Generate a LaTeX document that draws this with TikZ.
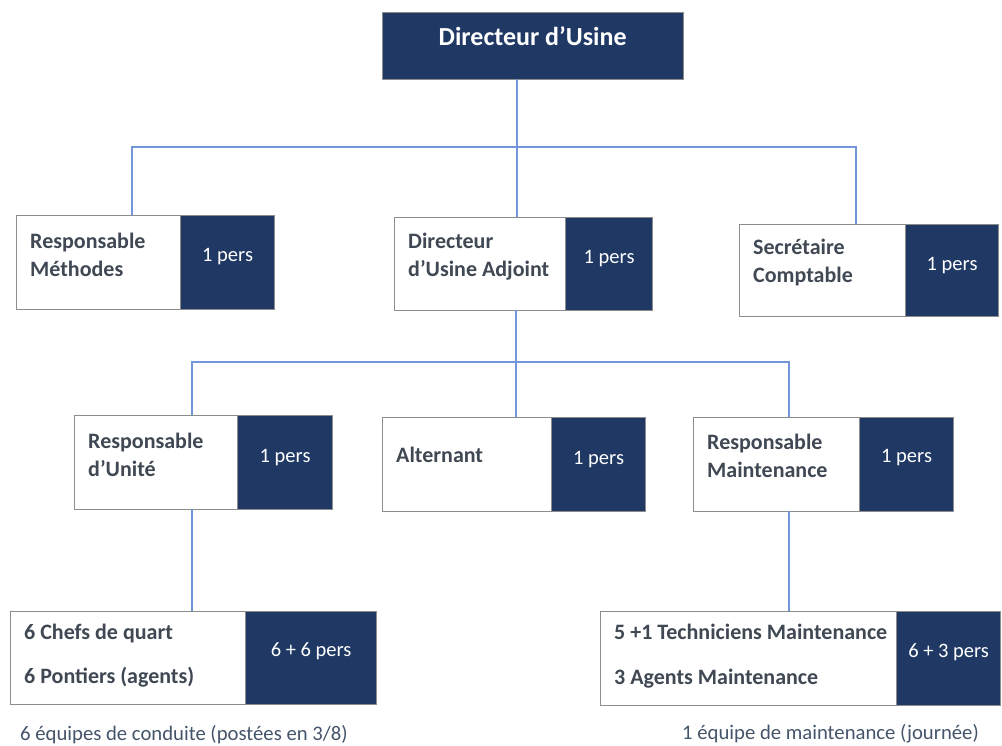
\documentclass[tikz,border=0pt]{standalone}
\usepackage{fontspec}
\setmainfont{Carlito}
\usepackage{xcolor}
\usetikzlibrary{positioning}

\definecolor{navy}{HTML}{1F3864}
\definecolor{boxline}{HTML}{8C8C8C}
\definecolor{roletext}{HTML}{404854}
\definecolor{linkblue}{HTML}{7494DC}
\definecolor{notetext}{HTML}{44546A}

\begin{document}
\begin{tikzpicture}[
  x=1pt, y=-1pt,
  chief/.style = {rectangle, draw=boxline, fill=navy, text=white, font=\fontsize{26}{30}\selectfont\bfseries, minimum width=301pt, inner sep=0pt, text height=33pt, text depth=34pt, anchor=north west},
  role/.style = {rectangle, draw=boxline, fill=white, text=roletext, font=\fontsize{22}{28}\selectfont\bfseries, align=flush left, inner xsep=14pt, inner ysep=0pt, anchor=north west},
  count/.style = {rectangle, draw=boxline, fill=navy, text=white, font=\fontsize{20.5}{24}\selectfont, inner sep=0pt},
  link/.style = {draw=linkblue, line width=1.3pt},
  note/.style = {text=notetext, font=\fontsize{20.7}{24}\selectfont, inner sep=0pt, anchor=base west}
]
\useasboundingbox (0,0) rectangle (1002,745);

% top
\node[chief] (dir) at (382,12) {Directeur d’Usine};

% first row
\node[role, text width=136pt, text height=33pt, text depth=61pt] (meth) at (16,215) {Responsable\\Méthodes};
\node[count, minimum width=94pt, text height=46pt, text depth=48pt, right=0pt of meth] (methn) {1 pers};

\node[role, text width=143pt, text height=31pt, text depth=62pt] (adj) at (394,217) {Directeur\\d’Usine Adjoint};
\node[count, minimum width=87pt, text height=46pt, text depth=47pt, right=0pt of adj] (adjn) {1 pers};

\node[role, text width=138pt, text height=30pt, text depth=62pt] (secr) at (739,224) {Secrétaire\\Comptable};
\node[count, minimum width=93pt, text height=46pt, text depth=46pt, right=0pt of secr] (secrn) {1 pers};

% second row
\node[role, text width=135pt, text height=33pt, text depth=61pt] (unit) at (74,415) {Responsable\\d’Unité};
\node[count, minimum width=95pt, text height=47pt, text depth=47pt, right=0pt of unit] (unitn) {1 pers};

\node[role, text width=141pt, text height=45pt, text depth=49pt] (alt) at (382,417) {Alternant};
\node[count, minimum width=94pt, text height=47pt, text depth=47pt, right=0pt of alt] (altn) {1 pers};

\node[role, text width=138pt, text height=32pt, text depth=62pt] (maint) at (693,417) {Responsable\\Maintenance};
\node[count, minimum width=94pt, text height=45pt, text depth=49pt, right=0pt of maint] (maintn) {1 pers};

% teams
\node[role, text width=207pt, text height=28pt, text depth=65pt] (crew) at (10,611) {6 Chefs de quart\\[16pt]6 Pontiers (agents)};
\node[count, minimum width=131pt, text height=45pt, text depth=48pt, right=0pt of crew] (crewn) {6 + 6 pers};

\node[role, text width=268pt, text height=28pt, text depth=66pt] (tech) at (600,611) {\mbox{5 +1 Techniciens Maintenance}\\[17pt]3 Agents Maintenance};
\node[count, minimum width=104pt, text height=46pt, text depth=48pt, right=0pt of tech] (techn) {6 + 3 pers};

\node[note] (crewnote) at (20,740) {6 équipes de conduite (postées en 3/8)};
\node[note] (technote) at (682,739) {1 équipe de maintenance (journée)};

% links
\coordinate (busA) at (517,147);
\coordinate (busAL) at (132,147);
\coordinate (busAR) at (856,147);
\draw[link] (dir.south -| busA) -- (busA);
\draw[link] (meth.north -| busAL) -- (busAL) -- (busAR) -- (secr.north -| busAR);
\draw[link] (busA) -- (adj.north -| busA);

\coordinate (busB) at (516,362);
\coordinate (busBL) at (192,362);
\coordinate (busBR) at (789,362);
\draw[link] (adj.south -| busB) -- (busB);
\draw[link] (unit.north -| busBL) -- (busBL) -- (busBR) -- (maint.north -| busBR);
\draw[link] (busB) -- (alt.north -| busB);

\draw[link] (unit.south -| busBL) -- (crew.north -| busBL);
\draw[link] (maint.south -| busBR) -- (tech.north -| busBR);

\end{tikzpicture}
\end{document}
